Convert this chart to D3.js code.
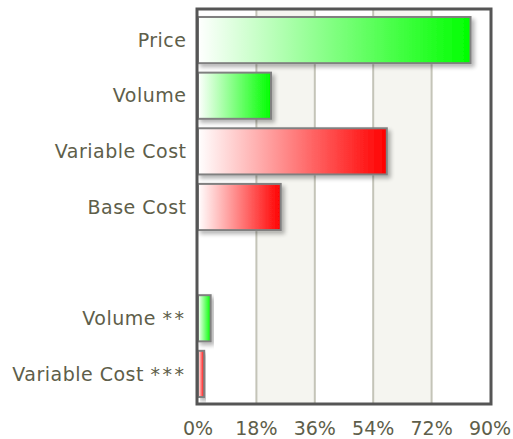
<!DOCTYPE html>
<html>
<head>
<meta charset="utf-8">
<script src="https://cdn.jsdelivr.net/npm/d3@7"></script>
<style>
  body { margin: 0; background: #fff; }
  text { font-family: Verdana, "DejaVu Sans", sans-serif; fill: #5e5e4a; }
</style>
</head>
<body>
<div id="chart"></div>
<script>
'use strict';

// chart values
var categories = ['Price', 'Volume', 'Variable Cost', 'Base Cost', '', 'Volume **', 'Variable Cost ***'];
var values = [84, 22.5, 58.2, 25.5, null, 3.9, 1.9];
var colors = ['green', 'green', 'red', 'red', null, 'green', 'red'];
var tickValues = [0, 18, 36, 54, 72, 90];

var W = 513, H = 439;
var plotLeft = 198, plotRight = 490, plotTop = 9, plotBottom = 404;

var svg = d3.select('#chart').append('svg')
  .attr('width', W)
  .attr('height', H);

var defs = svg.append('defs');

var gradColors = { green: '#00ff00', red: '#ff0000' };
Object.keys(gradColors).forEach(function (k) {
  var g = defs.append('linearGradient')
    .attr('id', 'grad-' + k)
    .attr('x1', '0%').attr('x2', '100%')
    .attr('y1', '0%').attr('y2', '0%');
  g.append('stop').attr('offset', '0%').attr('stop-color', '#ffffff');
  g.append('stop').attr('offset', '100%').attr('stop-color', gradColors[k]);
});

var shadow = defs.append('filter')
  .attr('id', 'shadow')
  .attr('x', '-10%').attr('y', '-20%')
  .attr('width', '130%').attr('height', '150%');
shadow.append('feGaussianBlur').attr('in', 'SourceAlpha').attr('stdDeviation', 2);
shadow.append('feOffset').attr('dx', 3).attr('dy', 3).attr('result', 'off');
shadow.append('feComponentTransfer').append('feFuncA').attr('type', 'linear').attr('slope', 0.3);
var merge = shadow.append('feMerge');
merge.append('feMergeNode');
merge.append('feMergeNode').attr('in', 'SourceGraphic');

var x = d3.scaleLinear().domain([0, 90]).range([plotLeft, plotRight]);
var y = d3.scaleBand().domain(d3.range(categories.length))
  .range([17, 397]).paddingInner(0.17).paddingOuter(0);

// Alternating bands
var bands = d3.pairs(tickValues);
svg.selectAll('rect.band')
  .data(bands)
  .enter().append('rect')
  .attr('class', 'band')
  .attr('x', function (d) { return x(d[0]); })
  .attr('y', plotTop)
  .attr('width', function (d) { return x(d[1]) - x(d[0]); })
  .attr('height', plotBottom - plotTop)
  .attr('fill', function (d, i) { return i % 2 === 1 ? '#f5f5f0' : '#ffffff'; });

// Grid lines
svg.selectAll('line.grid')
  .data(tickValues.slice(1, -1))
  .enter().append('line')
  .attr('x1', function (d) { return x(d); })
  .attr('x2', function (d) { return x(d); })
  .attr('y1', plotTop)
  .attr('y2', plotBottom)
  .attr('stroke', '#c4c4b8')
  .attr('stroke-width', 2);

// Bars
var rows = categories.map(function (c, i) {
  return { cat: c, value: values[i], color: colors[i], i: i };
}).filter(function (d) { return d.value !== null; });

svg.selectAll('rect.bar')
  .data(rows)
  .enter().append('rect')
  .attr('class', 'bar')
  .attr('x', x(0))
  .attr('y', function (d) { return y(d.i); })
  .attr('width', function (d) { return x(d.value) - x(0); })
  .attr('height', y.bandwidth())
  .attr('fill', function (d) { return 'url(#grad-' + d.color + ')'; })
  .attr('stroke', '#808080')
  .attr('stroke-width', 2)
  .attr('filter', 'url(#shadow)');

// Frame
svg.append('rect')
  .attr('x', plotLeft - 1)
  .attr('y', plotTop)
  .attr('width', plotRight - plotLeft + 2)
  .attr('height', plotBottom - plotTop)
  .attr('fill', 'none')
  .attr('stroke', '#555555')
  .attr('stroke-width', 3);

// Category labels (asterisks set a bit wider, as in the original font)
var labels = svg.selectAll('text.cat')
  .data(categories)
  .enter().append('text')
  .attr('class', 'cat')
  .attr('x', plotLeft - 11.5)
  .attr('y', function (d, i) { return y(i) + y.bandwidth() / 2; })
  .attr('dy', '0.35em')
  .attr('text-anchor', 'end')
  .attr('font-size', 19)
  .attr('letter-spacing', 0.5);

labels.each(function (d) {
  var m = d.match(/^(.*?)(\*+)$/);
  var t = d3.select(this);
  if (m) {
    t.append('tspan').text(m[1]);
    t.append('tspan').attr('letter-spacing', 2.5).text(m[2]);
  } else {
    t.text(d);
  }
});

// Tick labels
svg.selectAll('text.tick')
  .data(tickValues)
  .enter().append('text')
  .attr('class', 'tick')
  .attr('x', function (d) { return x(d); })
  .attr('y', 428)
  .attr('dy', '0.35em')
  .attr('text-anchor', 'middle')
  .attr('font-size', 19)
  .text(function (d) { return d + '%'; });
</script>
</body>
</html>
